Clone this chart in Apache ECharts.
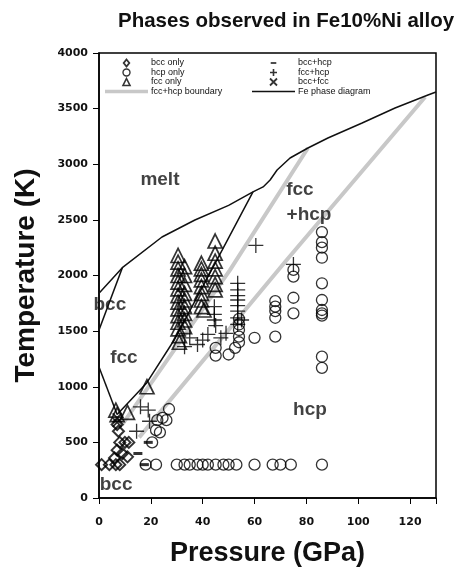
<!DOCTYPE html>
<html><head><meta charset="utf-8">
<script src="https://cdn.jsdelivr.net/npm/echarts@6/dist/echarts.min.js"></script>
<style>html,body{margin:0;padding:0;background:#fff}#c{width:459px;height:574px}</style>
</head><body><div id="c"></div>
<script>
// ---- data (Pressure GPa, Temperature K) ----
const xTicks = [0, 20, 40, 60, 80, 100, 120];
const yTicks = [0, 500, 1000, 1500, 2000, 2500, 3000, 3500, 4000];

const bccOnly = [[1,300],[4,300],[6.5,300],[8,300],[6,360],[7,430],[9,400],[11,370],[8,500],[10,500],[11.5,500],[7.5,600],[7,660]];
const hcpOnly = [
  [18,300],[22,300],[30,300],[33,300],[35,300],[38,300],[40,300],[42,300],[45,300],[48,300],[50,300],[53,300],[60,300],[67,300],[70,300],[74,300],[86,300],
  [20.5,500],[22,610],[23.5,590],[24.5,720],[22.5,700],[26,700],[27,800],
  [45,1350],[45,1280],[50,1290],[52.5,1350],[54,1400],[54,1450],[54,1510],[54,1560],[54,1610],
  [60,1440],[68,1450],[68,1620],[68,1680],[68,1720],[68,1770],
  [75,1660],[75,1800],[75,1990],[75,2050],
  [86,2390],[86,2300],[86,2250],[86,2160],[86,1930],[86,1780],[86,1690],[86,1660],[86,1640],[86,1270],[86,1170]
];
const fccOnly = [
  [6.5,790],[11,770],[7,750],[18.5,1000],
  [30.5,2180],[30.5,2120],[30.5,2060],[30.5,2000],[30.5,1940],[30.5,1880],[30.5,1820],[30.5,1760],[30.5,1700],[30.5,1640],[30.5,1580],[30.5,1520],[31,1460],[31,1400],
  [33,2080],[33,2000],[33,1920],[33,1840],[33,1780],[33,1720],[33,1660],[33,1600],[33,1540],
  [39.5,2110],[39.5,2060],[39.5,2010],[39.5,1960],[39.5,1900],[39.5,1840],[39.5,1780],[39.5,1720],[40.5,1690],
  [44.8,2310],[44.8,2200],[44.8,2130],[44.8,2060],[44.8,1990],[44.8,1920],[44.8,1870]
];
const bccHcp = [[19,500],[15,400],[17.5,300]];
const fccHcp = [
  [60.5,2270],[75,2100],
  [53.5,1930],[53.5,1870],[53.5,1820],[53.5,1780],[53.5,1730],[53.5,1680],[53.5,1620],[53.5,1560],[55,1600],
  [44.5,1720],[44.5,1650],[44.5,1600],[45,1550],
  [42,1470],[40,1420],[38,1380],[33,1360],[35,1440],[49,1480],[47,1440],
  [16,820],[19,790],[19.5,690],[14.5,600]
];
const bccFcc = [[7,720],[7,680]];

// Fe phase diagram (black lines)
const feMelt = [[0,1840],[9,2070],[24.3,2346],[37,2499],[50,2630],[59.4,2751],[63.3,2796],[66,2858],[68.7,2948],[73.7,3056],[80.6,3146],[88.3,3236],[101.5,3371],[114.2,3506],[126.9,3622],[130,3650]];
const feDeltaGamma = [[0,1510],[9,2070]];
const feAlphaGamma = [[0,1178],[7,750]];
const feGammaEps = [[7,750],[18.4,1034],[29,1420],[47.5,2229],[59.4,2751]];
// fcc+hcp boundary (gray lines)
const boundaryLow = [[8.8,656],[50.5,2049],[80.6,3146]];
const boundaryHigh = [[15.5,545],[72.4,2139],[125.8,3604]];

const regionLabels = [
  {text:'melt', at:[23.5,2858]},
  {text:'fcc', at:[77.5,2769]},
  {text:'+hcp', at:[81,2544]},
  {text:'bcc', at:[4.2,1735]},
  {text:'fcc', at:[9.6,1258]},
  {text:'hcp', at:[81.4,791]},
  {text:'bcc', at:[6.6,117]}
];

// ---- chart ----
const hollow = 'rgba(0,0,0,0)';
const FONT = 'Liberation Sans, Arial, sans-serif';
function scatter(name, data, symbol, size, extra) {
  return Object.assign({
    name, type:'scatter', data, symbol, symbolSize:size, z:5,
    itemStyle:{color:hollow, borderColor:'#000', borderWidth:1.3},
    emphasis:{disabled:true}, animation:false
  }, extra||{});
}
function line(name, data, color, width, z) {
  return {name, type:'line', data, symbol:'none', z:z, animation:false,
    lineStyle:{color, width}, itemStyle:{color}, emphasis:{disabled:true}};
}
const plusPath = 'path://M0,-1L0,1M-1,0L1,0';
const crossPath = 'path://M-1,-1L1,1M-1,1L1,-1';
const dashIcon = 'path://M-2,-1M2,1M-0.8,-0.25H0.8V0.25H-0.8Z';
const diamondIcon = 'path://M0,-1L0.8,0L0,1L-0.8,0Z';
const triIcon = 'path://M0,-1L1,1L-1,1Z';
const grayIcon = 'path://M0,0H43V3.5H0Z';
const blackIcon = 'path://M0,0H43V1.3H0Z';

const legendBase = {orient:'vertical', top:58.5, padding:0, itemWidth:43, itemHeight:7, itemGap:0.5,
  symbolKeepAspect:true, selectedMode:false,
  textStyle:{fontFamily:FONT, fontSize:9, color:'#111', lineHeight:9, padding:[0,0,0,-2]}};

const chart = echarts.init(document.getElementById('c'), null, {renderer:'canvas'});
chart.setOption({
  animation:false,
  title:{text:'Phases observed in Fe10%Ni alloy', left:113, top:6,
    textStyle:{fontFamily:FONT, fontWeight:'bold', fontSize:20.5, color:'#111'}},
  grid:{left:99, right:23, top:53, bottom:76, show:true, borderColor:'#000', borderWidth:1.5},
  xAxis:{type:'value', min:0, max:130, interval:20, name:'Pressure (GPa)', nameLocation:'middle', nameGap:42,
    nameTextStyle:{fontFamily:FONT, fontWeight:'bold', fontSize:27, color:'#111'},
    axisLine:{show:true, onZero:false, lineStyle:{color:'#000', width:1.5}},
    axisTick:{show:true, inside:false, length:6, lineStyle:{color:'#000'}},
    axisLabel:{margin:19, fontFamily:'DejaVu Sans', fontWeight:'bold', fontSize:11, color:'#111',
      formatter:v=>xTicks.indexOf(v)>=0?String(v):''},
    splitLine:{show:false}},
  yAxis:{type:'value', min:0, max:4000, interval:500, name:'Temperature (K)', nameLocation:'middle', nameGap:59,
    nameTextStyle:{fontFamily:FONT, fontWeight:'bold', fontSize:28, color:'#111'},
    axisLine:{show:true, onZero:false, lineStyle:{color:'#000', width:1.5}},
    axisTick:{show:true, inside:false, length:6, lineStyle:{color:'#000'}},
    axisLabel:{margin:11, fontFamily:'DejaVu Sans', fontWeight:'bold', fontSize:11, color:'#111',
      formatter:v=>yTicks.indexOf(v)>=0?String(v):''},
    splitLine:{show:false}},
  legend:[
    Object.assign({left:105, data:[
      {name:'bcc only', icon:diamondIcon, itemStyle:{borderWidth:1.8}},
      {name:'hcp only', itemStyle:{borderWidth:1.4}},
      {name:'fcc only', icon:triIcon, itemStyle:{borderWidth:1.6}},
      {name:'fcc+hcp boundary', icon:grayIcon, itemStyle:{borderWidth:0}}]}, legendBase),
    Object.assign({left:252, data:[
      {name:'bcc+hcp', icon:dashIcon},
      {name:'fcc+hcp', itemStyle:{borderWidth:1.6}},
      {name:'bcc+fcc', itemStyle:{borderWidth:1.8}},
      {name:'Fe phase diagram', icon:blackIcon, itemStyle:{borderWidth:0}}]}, legendBase)
  ],
  series:[
    line('fcc+hcp boundary', boundaryLow, '#c8c8c8', 4, 1),
    line('fcc+hcp boundary', boundaryHigh, '#c8c8c8', 4, 1),
    line('Fe phase diagram', feMelt, '#111', 1.5, 3),
    line('Fe phase diagram', feDeltaGamma, '#111', 1.5, 3),
    line('Fe phase diagram', feAlphaGamma, '#111', 1.5, 3),
    line('Fe phase diagram', feGammaEps, '#111', 1.5, 3),
    scatter('bcc only', bccOnly, 'diamond', 11, {itemStyle:{color:hollow,borderColor:'#000',borderWidth:2}}),
    scatter('hcp only', hcpOnly, 'circle', 11),
    scatter('fcc only', fccOnly, 'triangle', 14, {itemStyle:{color:hollow,borderColor:'#000',borderWidth:1.7}}),
    scatter('bcc+hcp', bccHcp, 'rect', [9,3], {itemStyle:{color:'#000'}}),
    scatter('fcc+hcp', fccHcp, plusPath, 15),
    scatter('bcc+fcc', bccFcc, crossPath, 9, {itemStyle:{color:hollow,borderColor:'#000',borderWidth:1.8}}),
    {type:'scatter', name:'labels', data:regionLabels.map(d=>({value:d.at, name:d.text})), symbolSize:0, z:6,
     silent:true, animation:false,
     label:{show:true, position:'inside', formatter:p=>p.name, fontFamily:FONT, fontWeight:'bold', fontSize:19, color:'#111'}}
  ]
});
</script></body></html>
